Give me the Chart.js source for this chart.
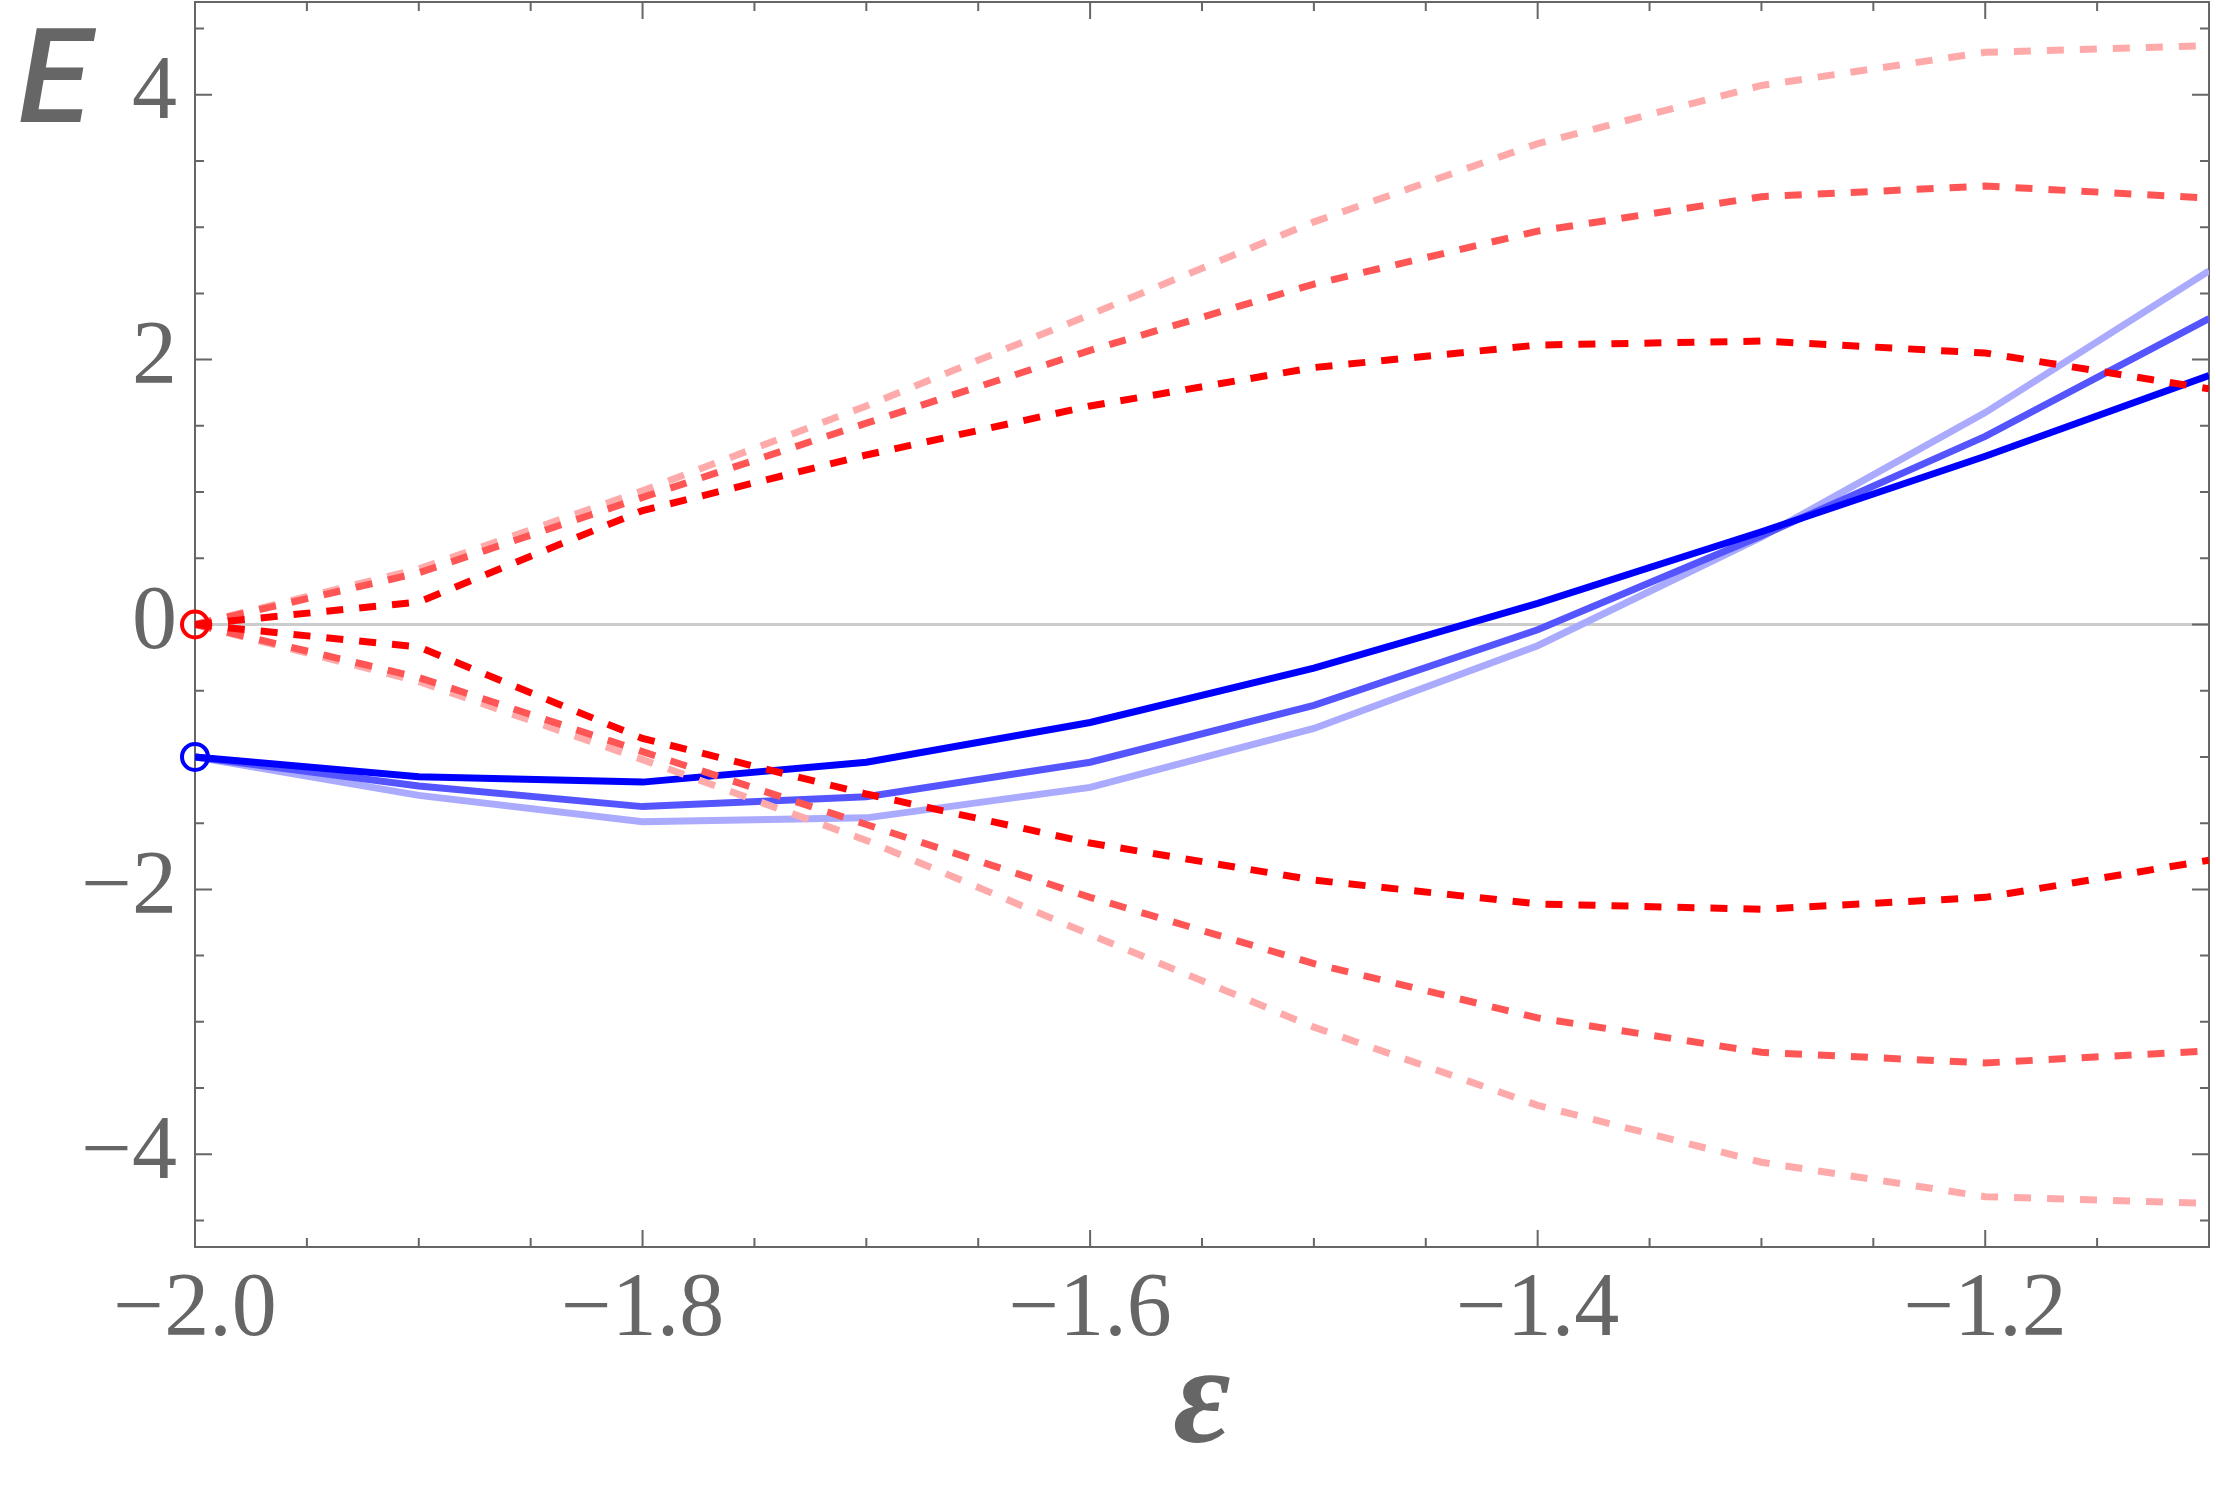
<!DOCTYPE html>
<html>
<head>
<meta charset="utf-8">
<script src="https://cdn.jsdelivr.net/npm/chart.js@4.4.0/dist/chart.umd.min.js"></script>
<style>
  html, body { margin: 0; padding: 0; background: #ffffff; }
  #wrap { width: 2216px; height: 1501px; position: relative; }
  canvas { display: block; }
</style>
</head>
<body>
<div id="wrap"><canvas id="c" width="2216" height="1501"></canvas></div>
<script>
// ---- data ----
const eps = [-2.0, -1.9, -1.8, -1.7, -1.6, -1.5, -1.4, -1.3, -1.2, -1.1];

const redDarkUp   = [0,  0.17,  0.86,  1.28,  1.65,  1.94,  2.11,  2.14,  2.05,  1.78];
const redDarkLo   = [0, -0.17, -0.86, -1.28, -1.65, -1.93, -2.11, -2.15, -2.06, -1.78];
const redMedUp    = [0,  0.39,  0.96,  1.52,  2.07,  2.57,  2.97,  3.23,  3.31,  3.22];
const redMedLo    = [0, -0.40, -0.96, -1.51, -2.06, -2.56, -2.97, -3.23, -3.31, -3.22];
const redLightUp  = [0,  0.42,  1.01,  1.65,  2.34,  3.04,  3.63,  4.07,  4.32,  4.37];
const redLightLo  = [0, -0.43, -1.02, -1.63, -2.34, -3.04, -3.63, -4.06, -4.32, -4.37];

const blueDark  = [-1.0, -1.15, -1.19,  -1.04, -0.74, -0.33,  0.16, 0.70, 1.27, 1.88];
const blueMed   = [-1.0, -1.22, -1.375, -1.30, -1.04, -0.61, -0.04, 0.67, 1.42, 2.31];
const blueLight = [-1.0, -1.29, -1.49,  -1.46, -1.23, -0.785,-0.16, 0.66, 1.60, 2.67];

const markerX = [-2.0, -2.0];
const markerY = [0, -1];

const xTickLabels = [-2.0, -1.8, -1.6, -1.4, -1.2];
const yTickLabels = [-4, -2, 0, 2, 4];
const xMinorStep = 0.05;
const yMinorStep = 0.5;
const xRange = [-2.0, -1.1];
const yRange = [-4.7, 4.7];

// ---- helpers ----
const pts = ys => eps.map((x, i) => ({ x: x, y: ys[i] }));
const minus = s => s.replace('-', '\u2212');
const AXIS = '#666666';

function lineDs(ys, color, dashed) {
  return {
    data: pts(ys),
    showLine: true,
    borderColor: color,
    borderWidth: 7,
    borderDash: dashed ? [17, 16] : [],
    pointRadius: 0,
    pointHoverRadius: 0,
    fill: false,
    tension: 0
  };
}
function markerDs(i, color) {
  return {
    data: [{ x: markerX[i], y: markerY[i] }],
    showLine: false,
    pointRadius: 13,
    pointBorderWidth: 4,
    pointBorderColor: color,
    pointBackgroundColor: 'rgba(0,0,0,0)',
    clip: false
  };
}
function zeroPad(s) {
  s.paddingTop = 0; s.paddingBottom = 0; s.paddingLeft = 0; s.paddingRight = 0;
}

const framePlugin = {
  id: 'frame',
  beforeDatasetsDraw(chart) {
    const { ctx, chartArea: a, scales: { x, y } } = chart;
    ctx.save();
    const y0 = y.getPixelForValue(0);
    ctx.strokeStyle = '#cccccc';
    ctx.lineWidth = 3;
    ctx.beginPath(); ctx.moveTo(a.left, y0); ctx.lineTo(a.right, y0); ctx.stroke();
    ctx.strokeStyle = AXIS;
    ctx.lineWidth = 2;
    ctx.strokeRect(a.left, a.top, a.right - a.left, a.bottom - a.top);
    const nX = Math.round((xRange[1] - xRange[0]) / xMinorStep);
    for (let k = 1; k < nX; k++) {
      const v = xRange[0] + k * xMinorStep;
      const major = xTickLabels.some(t => Math.abs(t - v) < 1e-6);
      const len = major ? 17 : 9;
      const px = x.getPixelForValue(v);
      ctx.beginPath();
      ctx.moveTo(px, a.bottom); ctx.lineTo(px, a.bottom - len);
      ctx.moveTo(px, a.top); ctx.lineTo(px, a.top + len);
      ctx.stroke();
    }
    const yStart = Math.ceil(yRange[0] / yMinorStep);
    const yEnd = Math.floor(yRange[1] / yMinorStep);
    for (let k = yStart; k <= yEnd; k++) {
      const v = k * yMinorStep;
      const major = yTickLabels.some(t => Math.abs(t - v) < 1e-6);
      const len = major ? 17 : 9;
      const py = y.getPixelForValue(v);
      ctx.beginPath();
      ctx.moveTo(a.left, py); ctx.lineTo(a.left + len, py);
      ctx.moveTo(a.right, py); ctx.lineTo(a.right - len, py);
      ctx.stroke();
    }
    ctx.restore();
  },
  afterDraw(chart) {
    const ctx = chart.ctx;
    ctx.save();
    ctx.fillStyle = AXIS;
    ctx.font = 'italic 500 132px Roboto';
    ctx.textAlign = 'left';
    ctx.textBaseline = 'alphabetic';
    ctx.fillText('E', 18, 122);
    ctx.restore();
  }
};

const datasets = [
  markerDs(0, '#ff0000'),
  markerDs(1, '#0000ff'),
  lineDs(redDarkUp, '#ff0000', true),
  lineDs(redDarkLo, '#ff0000', true),
  lineDs(redMedUp, '#ff5555', true),
  lineDs(redMedLo, '#ff5555', true),
  lineDs(redLightUp, '#ffaaaa', true),
  lineDs(redLightLo, '#ffaaaa', true),
  lineDs(blueDark, '#0000ff', false),
  lineDs(blueMed, '#5555ff', false),
  lineDs(blueLight, '#aaaaff', false)
];

new Chart(document.getElementById('c'), {
  type: 'scatter',
  data: { datasets: datasets },
  plugins: [framePlugin],
  options: {
    responsive: false,
    animation: false,
    devicePixelRatio: 1,
    events: [],
    layout: { autoPadding: false, padding: { left: 0, right: 7, top: 2, bottom: 0 } },
    plugins: { legend: { display: false }, tooltip: { enabled: false } },
    scales: {
      x: {
        type: 'linear',
        min: xRange[0],
        max: xRange[1],
        afterBuildTicks: s => { s.ticks = xTickLabels.map(v => ({ value: v })); },
        afterFit: s => { s.height = 254; zeroPad(s); },
        grid: { display: false, drawTicks: false },
        border: { display: false },
        ticks: {
          autoSkip: false, maxRotation: 0, minRotation: 0,
          padding: 10,
          color: AXIS,
          font: { family: 'Liberation Serif', size: 90 },
          callback: v => minus(Number(v).toFixed(1))
        },
        title: {
          display: true,
          text: 'ε',
          color: AXIS,
          font: { family: 'Liberation Serif', size: 140, style: 'italic', weight: 'bold' },
          padding: { top: 0, bottom: 11 }
        }
      },
      y: {
        type: 'linear',
        min: yRange[0],
        max: yRange[1],
        afterBuildTicks: s => { s.ticks = yTickLabels.map(v => ({ value: v })); },
        afterFit: s => { s.width = 195; zeroPad(s); },
        grid: { display: false, drawTicks: false },
        border: { display: false },
        ticks: {
          autoSkip: false,
          padding: 18,
          color: AXIS,
          font: { family: 'Liberation Serif', size: 90 },
          callback: v => minus(String(v))
        }
      }
    }
  }
});
</script>
</body>
</html>
